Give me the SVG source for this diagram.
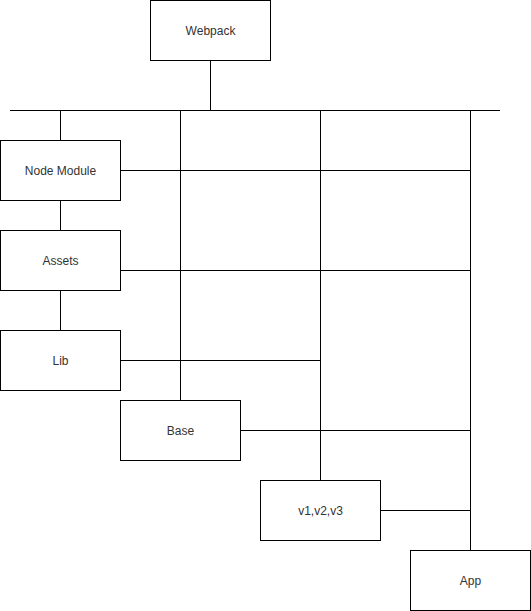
<svg xmlns="http://www.w3.org/2000/svg" width="531" height="611" viewBox="0 0 531 611">
<style>
.box{fill:#fff;stroke:#000;stroke-width:1}
.lbl{font-family:"Liberation Sans",Arial,sans-serif;font-size:12px;fill:#333;text-anchor:middle;dominant-baseline:central}
.conn line{stroke:#000;stroke-width:1}
</style>
<rect width="531" height="611" fill="#fff"/>
<g id="connectors" class="conn">
<line x1="210.5" y1="60.5" x2="210.5" y2="110.5"/>
<line x1="10" y1="110.5" x2="500" y2="110.5"/>
<line x1="60.5" y1="110.5" x2="60.5" y2="140.5"/>
<line x1="60.5" y1="200.5" x2="60.5" y2="230.5"/>
<line x1="60.5" y1="290.5" x2="60.5" y2="330.5"/>
<line x1="180.5" y1="110.5" x2="180.5" y2="400.5"/>
<line x1="320.5" y1="110.5" x2="320.5" y2="480.5"/>
<line x1="470.5" y1="110.5" x2="470.5" y2="550.5"/>
<line x1="120.5" y1="170.5" x2="470.5" y2="170.5"/>
<line x1="120.5" y1="270.5" x2="470.5" y2="270.5"/>
<line x1="120.5" y1="360.5" x2="320.5" y2="360.5"/>
<line x1="240.5" y1="430.5" x2="470.5" y2="430.5"/>
<line x1="380.5" y1="510.5" x2="470.5" y2="510.5"/>
</g>
<g id="webpack"><rect class="box" x="150.5" y="0.5" width="120" height="60"/><text class="lbl" x="210.5" y="30.5">Webpack</text></g>
<g id="node-module"><rect class="box" x="0.5" y="140.5" width="120" height="60"/><text class="lbl" x="60.5" y="170.5">Node Module</text></g>
<g id="assets"><rect class="box" x="0.5" y="230.5" width="120" height="60"/><text class="lbl" x="60.5" y="260.5">Assets</text></g>
<g id="lib"><rect class="box" x="0.5" y="330.5" width="120" height="60"/><text class="lbl" x="60.5" y="360.5">Lib</text></g>
<g id="base"><rect class="box" x="120.5" y="400.5" width="120" height="60"/><text class="lbl" x="180.5" y="430.5">Base</text></g>
<g id="versions"><rect class="box" x="260.5" y="480.5" width="120" height="60"/><text class="lbl" x="320.5" y="510.5">v1,v2,v3</text></g>
<g id="app"><rect class="box" x="410.5" y="550.5" width="120" height="60"/><text class="lbl" x="470.5" y="580.5">App</text></g>
</svg>
